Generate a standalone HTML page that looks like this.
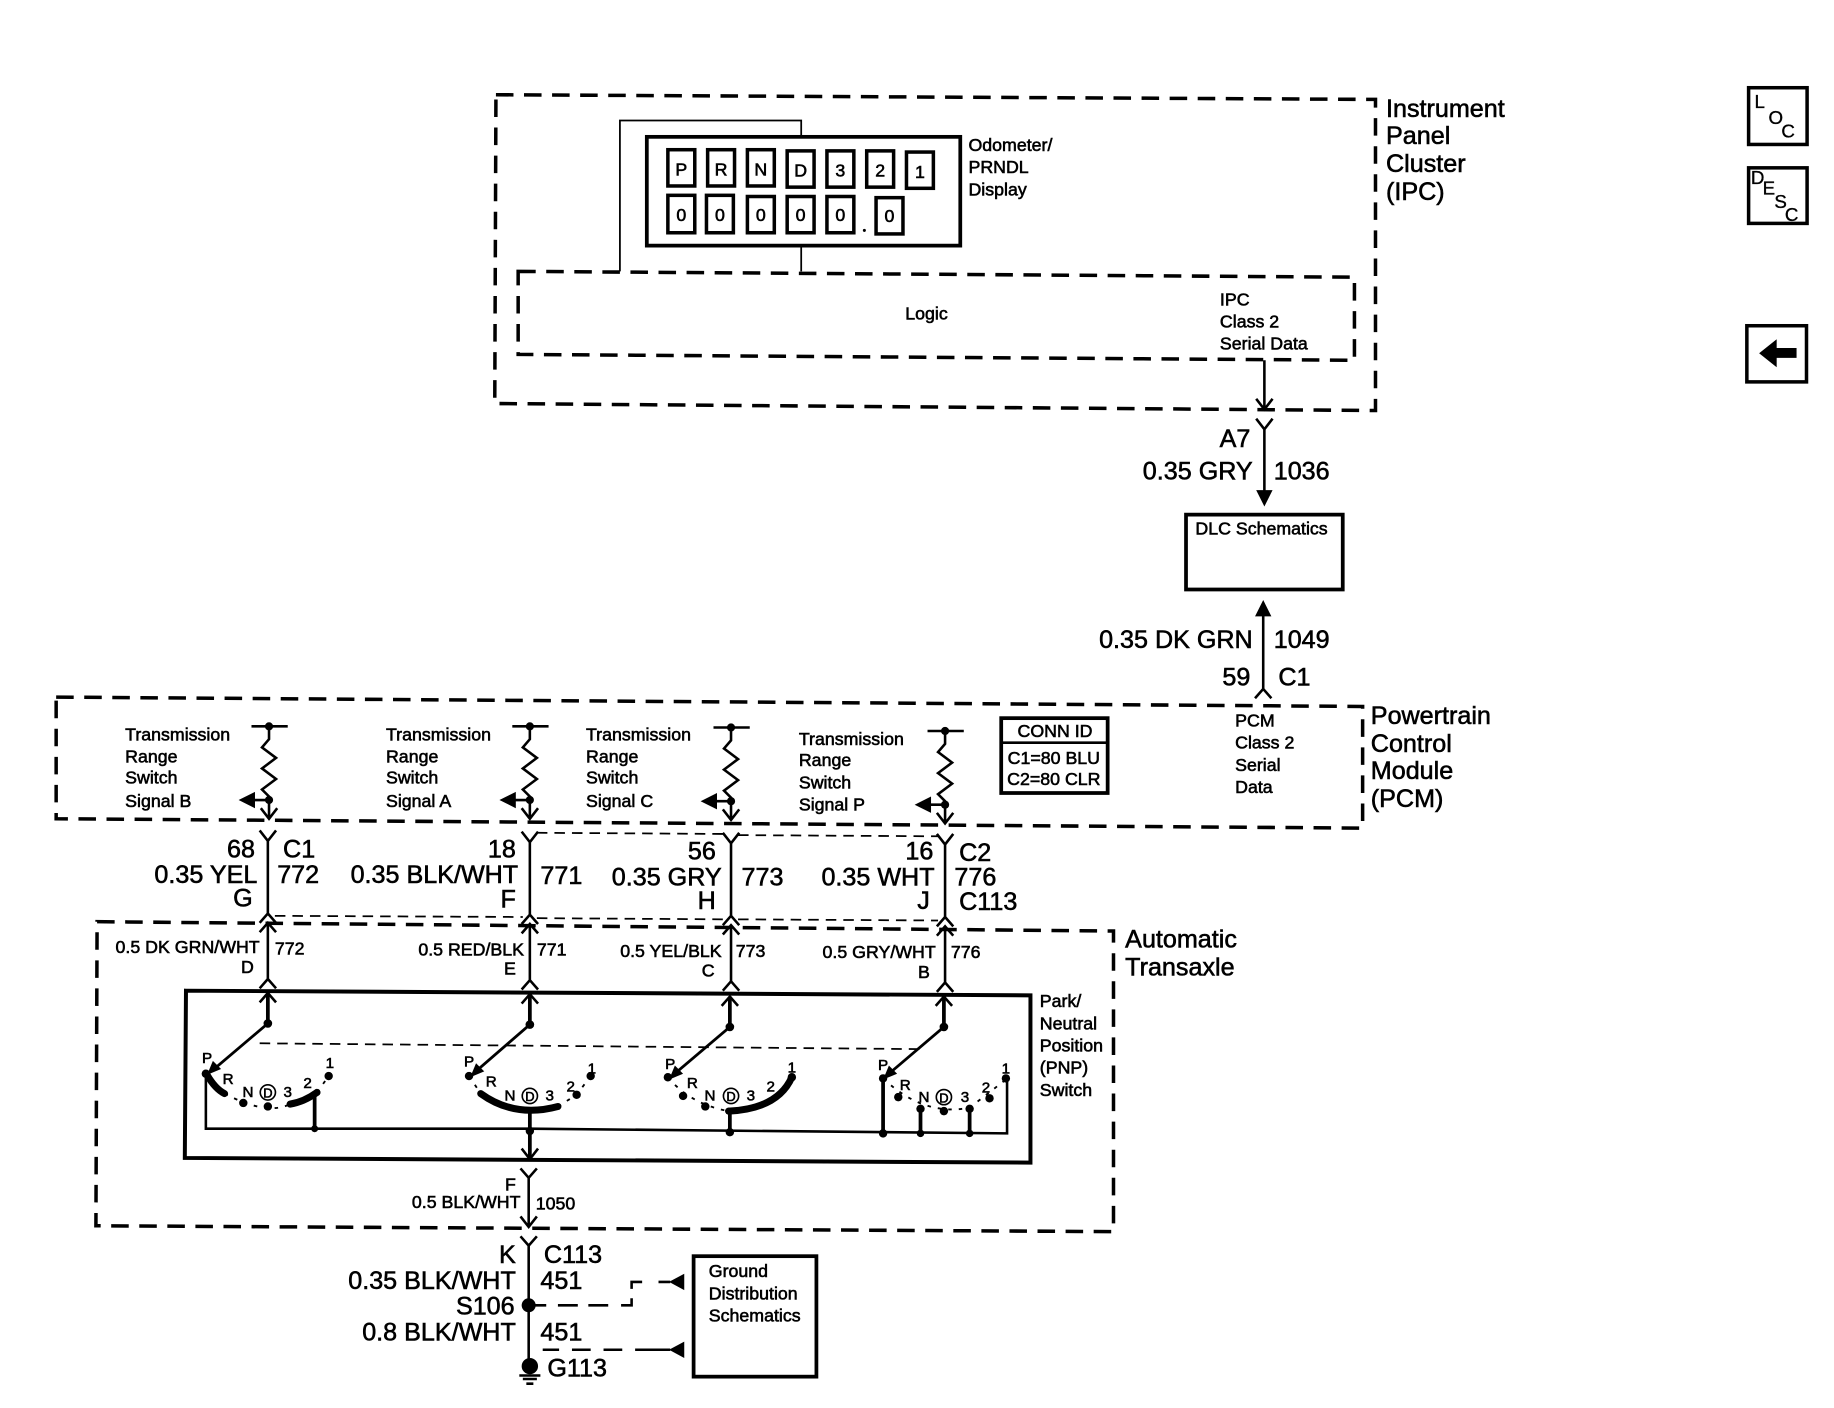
<!DOCTYPE html>
<html><head><meta charset="utf-8"><title>Diagram</title>
<style>
html,body{margin:0;padding:0;background:#fff}
svg{display:block}
text{font-family:"Liberation Sans",sans-serif;fill:#000;stroke:#000;stroke-width:.5}
.l{font-size:21.5px}.s{font-size:15.2px}.x{font-size:13px;stroke-width:.6}
.r{text-anchor:end}.m{text-anchor:middle}
.d{fill:none;stroke:#000;stroke-width:3;stroke-dasharray:15 9}
.t{fill:none;stroke:#000;stroke-width:1.5;stroke-dasharray:9 6}
.w{fill:none;stroke:#000;stroke-width:2.2}
.b{fill:none;stroke:#000;stroke-width:3.2}
.h{fill:none;stroke:#000;stroke-width:6;stroke-linecap:round}
.o{fill:none;stroke:#000;stroke-width:1.6;stroke-dasharray:3 6}
</style></head><body>
<svg xmlns="http://www.w3.org/2000/svg" width="1834" height="1408" viewBox="0 0 1568 1203.8">
<rect width="1568" height="1204" fill="#fff"/>

<!-- IPC -->
<path class="d" d="M424 81L1176 85V351L423 345Z"/>
<path class="d" d="M443 232L1158 237V308L443 303Z"/>
<path class="w" style="stroke-width:1.5" d="M530 232V103H685V117M685 210V232"/>
<rect x="553" y="117" width="268" height="93" fill="#fff" stroke="#000" stroke-width="3.2"/>
<g fill="none" stroke="#000" stroke-width="3">
<rect x="571" y="128" width="23" height="31"/><rect x="605" y="128" width="23" height="31"/><rect x="639" y="128" width="23" height="31"/><rect x="673" y="129" width="23" height="31"/><rect x="707" y="129" width="23" height="31"/><rect x="741" y="129" width="23" height="31"/><rect x="775" y="130" width="23" height="31"/>
<rect x="571" y="167" width="23" height="32"/><rect x="604" y="167" width="23" height="32"/><rect x="639" y="168" width="23" height="31"/><rect x="673" y="168" width="23" height="31"/><rect x="707" y="168" width="23" height="31"/><rect x="749" y="169" width="23" height="31"/>
</g>
<g class="s">
<text class="m" x="582.5" y="150">P</text><text class="m" x="616.5" y="150">R</text><text class="m" x="650.5" y="150">N</text><text class="m" x="684.5" y="151">D</text><text class="m" x="718.5" y="151">3</text><text class="m" x="752.5" y="151">2</text><text class="m" x="786.5" y="152">1</text>
<text class="m" x="582.5" y="189">0</text><text class="m" x="615.5" y="189">0</text><text class="m" x="650.5" y="189">0</text><text class="m" x="684.5" y="189">0</text><text class="m" x="718.5" y="189">0</text><text class="m" x="760.5" y="190">0</text>
<text x="828" y="129">Odometer/</text><text x="828" y="148">PRNDL</text><text x="828" y="167">Display</text>
<text x="774" y="273">Logic</text>
<text x="1043" y="261">IPC</text><text x="1043" y="280">Class 2</text><text x="1043" y="299">Serial Data</text>
</g>
<circle cx="739" cy="197" r="1.3"/>
<g class="l"><text x="1185" y="100">Instrument</text><text x="1185" y="123">Panel</text><text x="1185" y="147">Cluster</text><text x="1185" y="171">(IPC)</text></g>

<!-- DLC -->
<path class="w" d="M1081 308V349M1074 341L1081 350L1088 341M1074 358L1081 367L1088 358M1081 366V420"/>
<path d="M1074 419H1088L1081 433Z"/>
<text class="l r" x="1069" y="382">A7</text><text class="l r" x="1071" y="410">0.35 GRY</text><text class="l" x="1089" y="410">1036</text>
<rect x="1014" y="440" width="134" height="64" fill="none" stroke="#000" stroke-width="3.2"/>
<text class="s" x="1022" y="457">DLC Schematics</text>
<path d="M1073 527H1087L1080 513Z"/>
<path class="w" d="M1080 525V590M1073 597L1080 589L1087 597"/>
<text class="l r" x="1071" y="554">0.35 DK GRN</text><text class="l" x="1089" y="554">1049</text>
<text class="l r" x="1069" y="586">59</text><text class="l" x="1093" y="586">C1</text>

<!-- PCM -->
<path class="d" d="M48 596L1165 604V708L48 700Z"/>
<g class="l"><text x="1172" y="619">Powertrain</text><text x="1172" y="643">Control</text><text x="1172" y="666">Module</text><text x="1172" y="690">(PCM)</text></g>
<g class="s"><text x="1056" y="621">PCM</text><text x="1056" y="640">Class 2</text><text x="1056" y="659">Serial</text><text x="1056" y="678">Data</text></g>
<rect x="856" y="614" width="91" height="64" fill="none" stroke="#000" stroke-width="3.2"/>
<path class="w" d="M856 635H947"/>
<g class="s"><text class="m" x="902" y="630">CONN ID</text><text class="m" x="901" y="653">C1=80 BLU</text><text class="m" x="901" y="671">C2=80 CLR</text></g>

<!-- Pull-ups -->
<defs>
<g id="pull">
<path class="w" d="M-15 0H16M0 0V11L-6 18L6 27L-6 36L6 45L-6 54L0 60V79M-7 70L0 79L7 70M0 63H-14"/>
<circle cx="0" cy="0" r="3.5"/><circle cx="0" cy="63" r="3.5"/>
<path d="M-26 63L-12 56V70Z"/>
</g>
<g id="vconn">
<path class="w" d="M-7 -36L0 -27L7 -36M0 -27V36M-7 43L0 35L7 43"/>
</g>
<g id="aconn">
<path class="w" d="M-7 6L0 -2L7 6M0 -2V47M-7 54L0 46L7 54"/>
</g>
<g id="up">
<path class="w" d="M-7 8L0 0L7 8"/><path class="b" d="M0 0V26"/>
<circle cx="0" cy="26" r="3.7"/>
</g>
</defs>
<use href="#pull" x="230" y="621"/><use href="#pull" x="453" y="621"/><use href="#pull" x="625" y="622"/><use href="#pull" x="808" y="625"/>
<g class="s">
<text x="107" y="633">Transmission</text><text x="107" y="652">Range</text><text x="107" y="670">Switch</text><text x="107" y="690">Signal B</text>
<text x="330" y="633">Transmission</text><text x="330" y="652">Range</text><text x="330" y="670">Switch</text><text x="330" y="690">Signal A</text>
<text x="501" y="633">Transmission</text><text x="501" y="652">Range</text><text x="501" y="670">Switch</text><text x="501" y="690">Signal C</text>
<text x="683" y="637">Transmission</text><text x="683" y="655">Range</text><text x="683" y="674">Switch</text><text x="683" y="693">Signal P</text>
</g>

<!-- Inline connectors -->
<use href="#vconn" x="229" y="746"/><use href="#vconn" x="453" y="747"/><use href="#vconn" x="625" y="748"/><use href="#vconn" x="808" y="749"/>
<path class="t" d="M459 712L619 713M631 714L802 715M235 783L447 784M459 785L619 786M631 786L802 787"/>
<g class="l">
<text class="r" x="218" y="733">68</text><text x="242" y="733">C1</text><text class="r" x="220" y="755">0.35 YEL</text><text x="237" y="755">772</text><text class="r" x="216" y="775">G</text>
<text class="r" x="441" y="733">18</text><text class="r" x="443" y="755">0.35 BLK/WHT</text><text x="462" y="756">771</text><text class="r" x="441" y="776">F</text>
<text class="r" x="612" y="735">56</text><text class="r" x="617" y="757">0.35 GRY</text><text x="634" y="757">773</text><text class="r" x="612" y="777">H</text>
<text class="r" x="798" y="735">16</text><text x="820" y="736">C2</text><text class="r" x="799" y="757">0.35 WHT</text><text x="816" y="757">776</text><text class="r" x="795" y="777">J</text><text x="820" y="778">C113</text>
</g>

<!-- Transaxle -->
<path class="d" d="M83 788L952 796V1053L82 1048Z"/>
<g class="l"><text x="962" y="810">Automatic</text><text x="962" y="834">Transaxle</text></g>
<use href="#aconn" x="229" y="791"/><use href="#aconn" x="453" y="792"/><use href="#aconn" x="625" y="793"/><use href="#aconn" x="808" y="794"/>
<g class="s">
<text class="r" x="222" y="815">0.5 DK GRN/WHT</text><text x="235" y="816">772</text><text class="r" x="217" y="832">D</text>
<text class="r" x="448" y="817">0.5 RED/BLK</text><text x="459" y="817">771</text><text class="r" x="441" y="833">E</text>
<text class="r" x="617" y="818">0.5 YEL/BLK</text><text x="629" y="818">773</text><text class="r" x="611" y="835">C</text>
<text class="r" x="800" y="819">0.5 GRY/WHT</text><text x="813" y="819">776</text><text class="r" x="795" y="836">B</text>
<text x="889" y="861">Park/</text><text x="889" y="880">Neutral</text><text x="889" y="899">Position</text><text x="889" y="918">(PNP)</text><text x="889" y="937">Switch</text>
</g>
<path d="M159 847L881 851V994L158 990Z" fill="none" stroke="#000" stroke-width="3.4"/>

<!-- PNP switch -->
<use href="#up" x="229" y="849"/><use href="#up" x="453" y="850"/><use href="#up" x="624" y="852"/><use href="#up" x="807" y="852"/>
<path class="t" d="M222 892L790 897"/>
<g class="w" style="stroke-width:2.4;fill:none">
<path d="M229 875L183 914"/><path d="M453 876L408 915"/><path d="M624 878L578 917"/><path d="M807 878L760 918"/>
</g>
<path d="M177 919L189 914L182 907Z"/><path d="M402 921L414 916L407 909Z"/><path d="M572 923L584 918L577 911Z"/><path d="M755 923L767 918L760 911Z"/>
<!-- bus -->
<path class="w" d="M176 918V965H453L861 969V925"/>
<path class="b" d="M269 933V966M453 950V990M624 950V968M755 921V969M787 948V969M829 947V969"/>
<path class="w" d="M446 982L453 991L460 982"/>
<!-- arcs -->
<path class="h" d="M177 919Q184 931 192 935M248 944Q260 942 271 934"/>
<path class="h" d="M411 935Q440 956 477 946"/>
<path class="h" d="M623 950Q665 948 677 921"/>
<path class="o" d="M192 935Q228 954 248 944M271 934L281 920M401 920L411 935M477 946L493 936L505 920M571 921Q590 944 623 950M755 922Q790 955 829 947L860 923"/>
<g>
<circle cx="176" cy="918" r="3.6"/><circle cx="208" cy="943" r="3.6"/><circle cx="229" cy="946" r="3.6"/><circle cx="271" cy="934" r="3"/><circle cx="281" cy="920" r="3.6"/><circle cx="269" cy="965" r="3"/>
<circle cx="401" cy="920" r="3.6"/><circle cx="493" cy="936" r="3.6"/><circle cx="505" cy="920" r="3.6"/><circle cx="453" cy="967" r="3.6"/>
<circle cx="571" cy="921" r="3.6"/><circle cx="584" cy="937" r="3.6"/><circle cx="603" cy="946" r="3.6"/><circle cx="623" cy="950" r="3"/><circle cx="677" cy="921" r="3.6"/><circle cx="624" cy="968" r="3.6"/>
<circle cx="755" cy="922" r="3.6"/><circle cx="768" cy="938" r="3.6"/><circle cx="787" cy="948" r="3.6"/><circle cx="807" cy="950" r="3.6"/><circle cx="829" cy="948" r="3.6"/><circle cx="846" cy="939" r="3.6"/><circle cx="860" cy="922" r="3.6"/>
<circle cx="755" cy="969" r="3.6"/><circle cx="787" cy="969" r="3.2"/><circle cx="829" cy="969" r="3.2"/>
</g>
<g fill="none" stroke="#000" stroke-width="1.4"><circle cx="229" cy="934" r="6.5"/><circle cx="453" cy="937" r="6.5"/><circle cx="625" cy="937" r="6.5"/><circle cx="807" cy="938" r="6.5"/></g>
<g class="x" text-anchor="middle">
<text x="177" y="909">P</text><text x="195" y="927">R</text><text x="212" y="938">N</text><text x="229" y="938.500" font-size="11">D</text><text x="246" y="938">3</text><text x="263" y="930">2</text><text x="282" y="913">1</text>
<text x="401" y="912">P</text><text x="420" y="929">R</text><text x="436" y="941">N</text><text x="453" y="941.500" font-size="11">D</text><text x="470" y="941">3</text><text x="488" y="933">2</text><text x="506" y="918">1</text>
<text x="573" y="914">P</text><text x="592" y="930">R</text><text x="607" y="941">N</text><text x="625" y="941.500" font-size="11">D</text><text x="642" y="941">3</text><text x="659" y="933">2</text><text x="677" y="917">1</text>
<text x="755" y="915">P</text><text x="774" y="932">R</text><text x="790" y="942">N</text><text x="807" y="942.500" font-size="11">D</text><text x="825" y="942">3</text><text x="843" y="934">2</text><text x="860" y="918">1</text>
</g>

<!-- Bottom -->
<path class="w" d="M445 999L452 1007L459 999M452 1006V1048M445 1040L452 1049L459 1040M445 1057L452 1065L459 1057M452 1064V1168"/>
<g class="s"><text class="r" x="441" y="1018">F</text><text class="r" x="445" y="1033">0.5 BLK/WHT</text><text x="458" y="1034">1050</text></g>
<g class="l">
<text class="r" x="441" y="1080">K</text><text x="465" y="1080">C113</text>
<text class="r" x="441" y="1102">0.35 BLK/WHT</text><text x="462" y="1102">451</text>
<text class="r" x="440" y="1124">S106</text>
<text class="r" x="441" y="1146">0.8 BLK/WHT</text><text x="462" y="1146">451</text>
<text x="468" y="1177">G113</text>
</g>
<circle cx="452" cy="1116" r="6"/>
<path class="w" d="M452 1116H467M477 1116H494M503 1116H520M531 1116H540V1110M540 1102V1096H549M563 1096H573"/>
<path class="w" d="M464 1154H478M489 1154H505M516 1154H532M543 1154H573"/>
<path d="M572 1096L585 1089V1103Z"/><path d="M572 1154L585 1147V1161Z"/>
<circle cx="453" cy="1168" r="7"/>
<path class="w" d="M444 1176H462M447 1179H459M450 1183H456"/>
<rect x="593" y="1074" width="105" height="103" fill="none" stroke="#000" stroke-width="3.2"/>
<g class="s"><text x="606" y="1092">Ground</text><text x="606" y="1111">Distribution</text><text x="606" y="1130">Schematics</text></g>

<!-- Nav buttons -->
<rect x="1495" y="75" width="50" height="48.500" fill="none" stroke="#000" stroke-width="3"/>
<rect x="1495" y="143.500" width="50" height="47.500" fill="none" stroke="#000" stroke-width="3"/>
<rect x="1493.500" y="278.500" width="51" height="48" fill="none" stroke="#000" stroke-width="3"/>
<g style="font-size:16px">
<text x="1500" y="92.500" style="stroke-width:.3">L</text><text x="1512" y="106" style="stroke-width:.3">O</text><text x="1523" y="117.500" style="stroke-width:.3">C</text>
<text x="1497" y="157.500" style="stroke-width:.3">D</text><text x="1507" y="166.500" style="stroke-width:.3">E</text><text x="1517" y="178" style="stroke-width:.3">S</text><text x="1526" y="189" style="stroke-width:.3">C</text>
</g>
<path d="M1504 302L1519 290V297.500H1536V306H1519V314Z"/>
</svg>
</body></html>
